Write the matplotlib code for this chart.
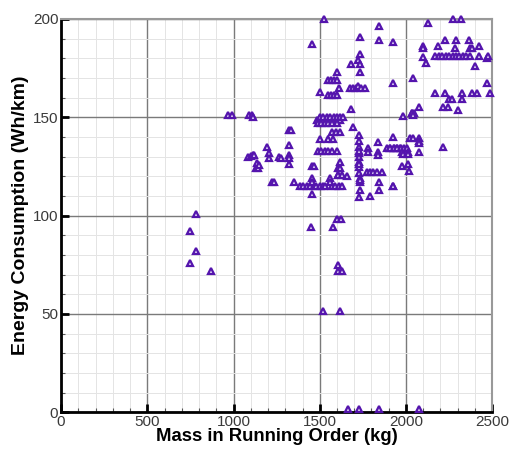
import numpy as np
import matplotlib
matplotlib.use('Agg')
import matplotlib.pyplot as plt
from matplotlib.ticker import MultipleLocator

# mass (kg) and energy consumption (Wh/km)
mass = [
    780, 750, 785, 750, 870,
    970, 990, 1090, 1110, 1115,
    1085, 1100, 1115, 1120, 1193, 1203, 1203,
    1132, 1135, 1144, 1150, 1222, 1234, 1266, 1274,
    1324, 1334, 1324, 1324, 1324, 1324, 1351, 1454, 1464,
    1386, 1405, 1425, 1445, 1465, 1480, 1500, 1520, 1531, 1454, 1454, 1454,
    1570, 1590, 1610, 1628, 1560, 1560, 1608, 1657,
    1483, 1500, 1520, 1540, 1560, 1580, 1600, 1618,
    1502, 1520, 1540, 1560, 1580, 1600, 1620, 1637,
    1492, 1510, 1530, 1550, 1570, 1599,
    1570, 1595, 1618, 1695, 1502, 1550, 1579,
    1492, 1510, 1530, 1550, 1570, 1599,
    1618, 1608, 1618, 1608, 1628,
    1730, 1730, 1730, 1730, 1730, 1730, 1730, 1730, 1735, 1735, 1725, 1725,
    1734, 1734, 1730, 1792, 1846, 1846, 1927,
    1782, 1782, 1840, 1840, 1840, 1773, 1790, 1810, 1830, 1860,
    1889, 1910, 1930, 1950, 1966, 1927,
    1527, 1454, 1846, 1734, 1846, 1923, 1734, 1724, 1734, 1680, 1734,
    1602, 1550, 1565, 1580, 1599, 1614, 1502, 1550, 1565, 1580, 1599,
    1676, 1695, 1710, 1724, 1740, 1763, 1923, 1680,
    2271, 2318, 2126, 2101, 2101, 2188, 2227, 2291, 2368, 2426,
    2285, 2372, 2382,
    2169, 2190, 2210, 2230, 2250, 2270, 2290, 2310, 2330, 2350, 2372,
    2101, 2117, 2426, 2469, 2478, 2401, 2039, 2469,
    2169, 2227, 2252, 2266, 2324, 2324, 2382, 2414, 2488,
    2217, 2246, 2304, 2078, 2034, 2047, 1985,
    2034, 2043, 2024, 2043, 2078, 2078, 2078,
    1908, 1930, 1950, 1970, 1990, 2005,
    1976, 1985, 2014, 2014, 2078, 2217, 1976, 2014, 2020, 1927,
    1599, 1622, 1448, 1574, 1608, 1608, 1628, 1517, 1618,
    1662, 1730, 1846, 2078,
]
energy = [
    101, 92, 82, 76, 72,
    151, 151, 151, 151, 150,
    129.6, 130.5, 130.8, 131, 135, 131.6, 129,
    124, 126.6, 124, 125.6, 117, 117, 129.6, 129,
    143.5, 143.5, 136, 131, 129, 126, 117, 125.2, 125.2,
    115, 115, 115, 115, 115, 115, 115, 115, 115, 118.9, 117.2, 111,
    115, 115, 115, 115, 118.9, 117.2, 120.6, 120.1,
    148.6, 148.6, 148.6, 148.6, 148.6, 148.6, 148.6, 148.6,
    150.3, 150.3, 150.3, 150.3, 150.3, 150.3, 150.3, 150.3,
    146.9, 146.9, 146.9, 146.9, 146.9, 146.9,
    142.7, 142.7, 142.7, 145.2, 139, 139, 139,
    132.8, 132.8, 132.8, 132.8, 132.8, 132.8,
    127.4, 124, 124, 120.6, 120.6,
    141, 138, 135, 132, 130, 127, 124.5, 121.5, 119, 117, 126, 133,
    118, 113, 109.2, 109.9, 117.2, 113, 115,
    134.2, 132.5, 137.6, 132.5, 130.8, 122.3, 122.3, 122.3, 122.3, 122.3,
    134.2, 134.2, 134.2, 134.2, 134.2, 140.1,
    200, 187, 196.5, 191, 189.3, 188.1, 182, 179.1, 176.9, 176.9, 173,
    173, 169, 169, 169, 169, 164.7, 163, 161.2, 161.2, 161.2, 161.2,
    164.7, 164.7, 164.7, 166, 164.7, 164.7, 167.3, 154,
    200, 200, 197.8, 186.3, 185, 186.3, 189, 189, 189, 186.3,
    185, 185, 185,
    181.2, 181.2, 181.2, 181.2, 181.2, 181.2, 181.2, 181.2, 181.2, 181.2, 181.2,
    180.8, 177.8, 181.2, 180, 181, 176.1, 169.8, 167.3,
    162.2, 162.2, 159.1, 159.1, 162.2, 159.1, 162.2, 162.2, 162.2,
    155, 155, 153.7, 155, 152, 152, 150.6,
    152, 151, 139.3, 139.3, 139.3, 138, 136.7,
    134.2, 134.2, 134.2, 134.2, 134.2, 134.2,
    132.5, 131.3, 132.5, 131.3, 132.1, 135, 125.2, 126.2, 122.8, 115,
    98, 98, 94, 94, 74.8, 71.9, 71.9, 51.5, 51.5,
    1.5, 1.5, 1.5, 1.5,
]

fig = plt.figure(figsize=(5.09, 4.49), dpi=100)
ax = fig.add_axes([0.12, 0.082, 0.847, 0.876])

ax.plot(mass, energy, linestyle='none', marker='^', markersize=3.8,
        markerfacecolor='#e6dcf7', markeredgecolor='#5414ad',
        markeredgewidth=1.6, clip_on=False, zorder=3)

ax.set_xlim(0, 2500)
ax.set_ylim(0, 200)
ax.xaxis.set_major_locator(MultipleLocator(500))
ax.xaxis.set_minor_locator(MultipleLocator(100))
ax.yaxis.set_major_locator(MultipleLocator(50))
ax.yaxis.set_minor_locator(MultipleLocator(10))

ax.grid(which='major', color='#7a7a7a', linewidth=1.0, zorder=1)
ax.grid(which='minor', color='#e4e4e4', linewidth=0.7, zorder=0)
ax.set_axisbelow(True)

ax.tick_params(which='major', direction='in', length=6, width=2,
               labelsize=11, pad=2, colors='black')
ax.tick_params(which='minor', direction='in', length=3, width=0.8,
               color='#555555')
ax.tick_params(axis='both', labelcolor='#3a3a3a')
for lbl in ax.get_xticklabels() + ax.get_yticklabels():
    lbl.set_family(['Liberation Sans', 'DejaVu Sans'])

for side in ['left', 'bottom']:
    ax.spines[side].set_linewidth(2)
    ax.spines[side].set_color('black')
for side in ['top', 'right']:
    ax.spines[side].set_linewidth(1.5)
    ax.spines[side].set_color('#999999')

ax.set_xlabel('Mass in Running Order (kg)', fontsize=13.3, fontweight='bold',
              family=['Liberation Sans', 'DejaVu Sans'], labelpad=-1)
ax.set_ylabel('Energy Consumption (Wh/km)', fontsize=14, fontweight='bold',
              family=['Liberation Sans', 'DejaVu Sans'], labelpad=3)

fig.savefig('out.png', dpi=100)
